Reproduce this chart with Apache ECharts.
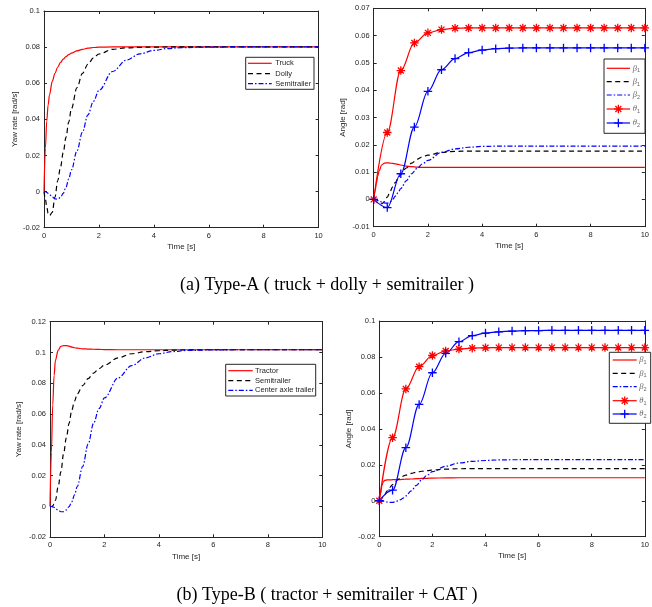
<!DOCTYPE html>
<html>
<head>
<meta charset="utf-8">
<script src="https://cdn.jsdelivr.net/npm/echarts@6/dist/echarts.min.js"></script>
<style>
  html, body { margin: 0; padding: 0; background: #fff; }
  #chart { width: 652px; height: 607px; }
</style>
</head>
<body>
<div id="chart"></div>
<script>
// Time samples [s] for the continuous responses
const T = [0, 0.05, 0.1, 0.15, 0.2, 0.3, 0.4, 0.5, 0.6, 0.7, 0.8, 0.9, 1.0, 1.2, 1.4, 1.6, 1.8, 2.0, 2.5, 3.0, 3.5, 4.0, 4.5, 5.0, 6, 7, 8, 9, 10];
// Time samples [s] for the marked articulation-angle curves
const TM = [0, 0.5, 1, 1.5, 2, 2.5, 3, 3.5, 4, 4.5, 5, 5.5, 6, 6.5, 7, 7.5, 8, 8.5, 9, 9.5, 10];

// (a) Type-A yaw rates [rad/s]
const yawTruck = [0, 0.024, 0.039, 0.048, 0.0535, 0.061, 0.0655, 0.069, 0.0715, 0.0733, 0.0747, 0.0758, 0.0767, 0.0779, 0.0788, 0.0794, 0.0798, 0.08, 0.0801, 0.0801, 0.0801, 0.0801, 0.0801, 0.0801, 0.0801, 0.0801, 0.0801, 0.0801, 0.0801];
const yawDolly = [0, -0.004, -0.0085, -0.012, -0.0133, -0.0115, -0.003, 0.006, 0.0135, 0.0215, 0.03, 0.0385, 0.046, 0.0575, 0.0655, 0.0705, 0.074, 0.0762, 0.0788, 0.0796, 0.0799, 0.08, 0.0801, 0.0801, 0.0801, 0.0801, 0.0801, 0.0801, 0.0801];
const yawSemiA = [0, -0.0001, -0.0004, -0.001, -0.0016, -0.003, -0.004, -0.0042, -0.0032, -0.001, 0.0025, 0.007, 0.012, 0.0225, 0.033, 0.0425, 0.05, 0.056, 0.0665, 0.0728, 0.0763, 0.0782, 0.0792, 0.0797, 0.08, 0.0801, 0.0801, 0.0801, 0.0801];

// (a) Type-A angles [rad]
const angBeta1A = [0, 0.003, 0.006, 0.0085, 0.0105, 0.0127, 0.0133, 0.0134, 0.0133, 0.0132, 0.013, 0.0128, 0.0126, 0.0122, 0.012, 0.0118, 0.0117, 0.0117, 0.0117, 0.0117, 0.0117, 0.0117, 0.0117, 0.0117, 0.0117, 0.0117, 0.0117, 0.0117, 0.0117];
const angBeta1dA = [0, -0.0003, -0.0008, -0.0012, -0.0015, -0.0016, -0.0008, 0.0008, 0.0028, 0.0046, 0.0062, 0.0077, 0.0091, 0.0115, 0.0133, 0.0147, 0.0156, 0.0162, 0.0172, 0.0176, 0.0177, 0.0177, 0.0177, 0.0177, 0.0177, 0.0177, 0.0177, 0.0177, 0.0177];
const angBeta2A = [0, -0.0001, -0.0002, -0.0004, -0.0006, -0.001, -0.0013, -0.0014, -0.001, 0, 0.0012, 0.0025, 0.004, 0.0068, 0.0094, 0.0114, 0.013, 0.0143, 0.0172, 0.0185, 0.0191, 0.0194, 0.0195, 0.0195, 0.0195, 0.0195, 0.0195, 0.0195, 0.0195];
const angTheta1A = [0, 0.0245, 0.0472, 0.0573, 0.061, 0.0622, 0.0627, 0.0628, 0.0628, 0.0628, 0.0628, 0.0628, 0.0628, 0.0628, 0.0628, 0.0628, 0.0628, 0.0628, 0.0628, 0.0628, 0.0628];
const angTheta2A = [0, -0.003, 0.0094, 0.0265, 0.0396, 0.0475, 0.0516, 0.0538, 0.0547, 0.0552, 0.0554, 0.0555, 0.0555, 0.0555, 0.0555, 0.0555, 0.0555, 0.0555, 0.0555, 0.0555, 0.0555];

// (b) Type-B yaw rates [rad/s]
const yawTractor = [0, 0.035, 0.066, 0.085, 0.095, 0.1015, 0.104, 0.1045, 0.1045, 0.1041, 0.1035, 0.1031, 0.1028, 0.1024, 0.1022, 0.1021, 0.102, 0.1019, 0.1018, 0.1018, 0.1018, 0.1018, 0.1018, 0.1018, 0.1018, 0.1018, 0.1018, 0.1018, 0.1018];
const yawSemiB = [0, 0, 0.0005, 0.0015, 0.004, 0.013, 0.0225, 0.0345, 0.0445, 0.054, 0.0625, 0.0685, 0.073, 0.0785, 0.083, 0.0866, 0.0895, 0.0918, 0.0965, 0.0992, 0.1005, 0.1012, 0.1015, 0.1017, 0.1018, 0.1018, 0.1018, 0.1018, 0.1018];
const yawCAT = [0, 0, -0.0002, -0.0006, -0.0012, -0.0025, -0.0034, -0.0034, -0.0022, 0, 0.003, 0.0075, 0.013, 0.026, 0.0405, 0.054, 0.0635, 0.0705, 0.0835, 0.0915, 0.0965, 0.0992, 0.1006, 0.1013, 0.1017, 0.1018, 0.1018, 0.1018, 0.1018];

// (b) Type-B angles [rad]
const angBeta1B = [0, 0.004, 0.0085, 0.0105, 0.0113, 0.0116, 0.0116, 0.0117, 0.0117, 0.0118, 0.0118, 0.0119, 0.012, 0.0121, 0.0123, 0.0124, 0.0125, 0.0126, 0.0127, 0.0128, 0.0128, 0.0128, 0.0128, 0.0128, 0.0128, 0.0128, 0.0128, 0.0128, 0.0128];
const angBeta1dB = [0, 0.0005, 0.0015, 0.0025, 0.0035, 0.0055, 0.0075, 0.009, 0.0105, 0.0118, 0.0128, 0.0137, 0.0143, 0.0152, 0.0159, 0.0164, 0.0168, 0.0171, 0.0176, 0.0178, 0.0179, 0.0179, 0.0179, 0.0179, 0.0179, 0.0179, 0.0179, 0.0179, 0.0179];
const angBeta2B = [0, 0, -0.0001, -0.0002, -0.0004, -0.0007, -0.0009, -0.0009, -0.0006, -0.0001, 0.0006, 0.0015, 0.0027, 0.0055, 0.0086, 0.0117, 0.0142, 0.0162, 0.0192, 0.021, 0.0219, 0.0224, 0.0227, 0.0228, 0.0229, 0.0229, 0.0229, 0.0229, 0.0229];
const angTheta1B = [0, 0.0351, 0.0622, 0.0746, 0.0808, 0.0833, 0.0844, 0.0849, 0.0851, 0.0852, 0.0852, 0.0852, 0.0852, 0.0852, 0.0852, 0.0852, 0.0852, 0.0852, 0.0852, 0.0852, 0.0852];
const angTheta2B = [0, 0.0059, 0.0295, 0.0536, 0.0712, 0.082, 0.0885, 0.0919, 0.0933, 0.094, 0.0944, 0.0946, 0.0947, 0.0948, 0.0948, 0.0948, 0.0948, 0.0948, 0.0948, 0.0948, 0.0948];

// Axis ranges: [min, max, interval]
const xRange = [0, 10, 2];
const yRanges = [[-0.02, 0.1, 0.02], [-0.01, 0.07, 0.01], [-0.02, 0.12, 0.02], [-0.02, 0.1, 0.02]];
const xTitle = 'Time [s]';
const yTitles = ['Yaw rate [rad/s]', 'Angle [rad]', 'Yaw rate [rad/s]', 'Angle [rad]'];
const captions = ['(a) Type-A ( truck + dolly + semitrailer )', '(b) Type-B ( tractor + semitrailer + CAT )'];

// Legend labels per curve id (rich text for the Greek symbols)
const legendText = {
  'a-truck': 'Truck', 'a-dolly': 'Dolly', 'a-semi': 'Semitrailer',
  'a-b1': '{g|β}{s|1}', 'a-b1d': '{g|β}{s|1}', 'a-b2': '{g|β}{s|2}', 'a-t1': '{g|θ}{s|1}', 'a-t2': '{g|θ}{s|2}',
  'b-tractor': 'Tractor', 'b-semi': 'Semitrailer', 'b-cat': 'Center axle trailer',
  'b-b1': '{g|β}{s|1}', 'b-b1d': '{g|β}{s|1}', 'b-b2': '{g|β}{s|2}', 'b-t1': '{g|θ}{s|1}', 'b-t2': '{g|θ}{s|2}'
};

const AX = '#262626';
const RED = '#ff0000', BLK = '#000000', BLU = '#0000ff';
const DASH = [5, 3.5];
const DASHDOT = [5, 2, 1.5, 2];
const STAR = 'path://M0,5L10,5M5,0L5,10M1.5,1.5L8.5,8.5M1.5,8.5L8.5,1.5';
const PLUS = 'path://M0,5L10,5M5,0L5,10';
const MARK_SIZE = 8.5;

// Curve definitions: id, panel, x samples, y values, colour, dash, marker
const curves = [
  ['a-truck', 0, T, yawTruck, RED, null, null],
  ['a-dolly', 0, T, yawDolly, BLK, DASH, null],
  ['a-semi', 0, T, yawSemiA, BLU, DASHDOT, null],
  ['a-b1', 1, T, angBeta1A, RED, null, null],
  ['a-b1d', 1, T, angBeta1dA, BLK, DASH, null],
  ['a-b2', 1, T, angBeta2A, BLU, DASHDOT, null],
  ['a-t1', 1, TM, angTheta1A, RED, null, 'star'],
  ['a-t2', 1, TM, angTheta2A, BLU, null, 'plus'],
  ['b-tractor', 2, T, yawTractor, RED, null, null],
  ['b-semi', 2, T, yawSemiB, BLK, DASH, null],
  ['b-cat', 2, T, yawCAT, BLU, DASHDOT, null],
  ['b-b1', 3, T, angBeta1B, RED, null, null],
  ['b-b1d', 3, T, angBeta1dB, BLK, DASH, null],
  ['b-b2', 3, T, angBeta2B, BLU, DASHDOT, null],
  ['b-t1', 3, TM, angTheta1B, RED, null, 'star'],
  ['b-t2', 3, TM, angTheta2B, BLU, null, 'plus']
];
const curveById = {};
curves.forEach(c => { curveById[c[0]] = c; });

const grids = [
  { left: 44, top: 11, width: 274.6, height: 216.7 },
  { left: 373.7, top: 8.3, width: 274.6, height: 218.4 },
  { left: 50, top: 321.7, width: 272.3, height: 215.6 },
  { left: 379.3, top: 321, width: 273.7, height: 215.7 }
];
const yNameGaps = [25, 27, 27, 27];

const fmt = v => String(+v.toFixed(3));
const xAxes = [], yAxes = [];
grids.forEach((g, i) => {
  const [ymin, ymax, yint] = yRanges[i];
  const common = {
    gridIndex: i, type: 'value',
    axisLine: { show: true, onZero: false, lineStyle: { color: AX, width: 1 } },
    axisTick: { show: true, inside: true, length: 3, lineStyle: { color: AX, width: 1 } },
    splitLine: { show: false }
  };
  xAxes.push(Object.assign({}, common, {
    position: 'bottom', min: xRange[0], max: xRange[1], interval: xRange[2],
    axisLabel: { color: AX, fontSize: 7.5, fontFamily: 'Liberation Sans', margin: 4, formatter: fmt },
    name: xTitle, nameLocation: 'middle', nameGap: 15,
    nameTextStyle: { color: AX, fontSize: 8, fontFamily: 'Liberation Sans' }
  }));
  xAxes.push(Object.assign({}, common, {
    position: 'top', min: xRange[0], max: xRange[1], interval: xRange[2],
    axisLabel: { show: false }
  }));
  yAxes.push(Object.assign({}, common, {
    position: 'left', min: ymin, max: ymax, interval: yint,
    axisLabel: { color: AX, fontSize: 7.5, fontFamily: 'Liberation Sans', margin: 4, formatter: fmt },
    name: yTitles[i], nameLocation: 'middle', nameGap: yNameGaps[i],
    nameTextStyle: { color: AX, fontSize: 8, fontFamily: 'Liberation Sans' }
  }));
  yAxes.push(Object.assign({}, common, {
    position: 'right', min: ymin, max: ymax, interval: yint,
    axisLabel: { show: false }
  }));
});

const pairs = (xs, ys) => xs.map((x, k) => [x, ys[k]]);
const series = curves.map(([id, panel, xs, ys, color, dash, mark]) => ({
  type: 'line', name: id,
  xAxisIndex: panel * 2, yAxisIndex: panel * 2,
  data: pairs(xs, ys),
  smooth: 0.35, smoothMonotone: 'x',
  symbol: mark === 'star' ? STAR : mark === 'plus' ? PLUS : 'none',
  showSymbol: !!mark, symbolSize: MARK_SIZE,
  lineStyle: { color: color, width: 1.2, type: dash || 'solid' },
  itemStyle: { color: color, borderColor: color, borderWidth: 1.3 },
  animation: false
}));

// Boxed legends drawn as graphics, styled from the same curve table
const legendRich = {
  g: { fontSize: 8.5, fontStyle: 'italic', fontFamily: 'Liberation Serif', fill: '#666', lineHeight: 11, verticalAlign: 'middle' },
  s: { fontSize: 5.5, fontFamily: 'Liberation Sans', fill: '#666', lineHeight: 6, verticalAlign: 'bottom' }
};
const legendLayouts = [
  { ids: ['a-truck', 'a-dolly', 'a-semi'], box: [245.7, 57.3, 68.3, 32], line: [248, 271.7], textX: 275.3, ys: [63.3, 73.7, 83.7] },
  { ids: ['a-b1', 'a-b1d', 'a-b2', 'a-t1', 'a-t2'], box: [604, 59, 41, 74.3], line: [606.7, 630], textX: 632.7, ys: [68.3, 81.6, 95, 109, 123] },
  { ids: ['b-tractor', 'b-semi', 'b-cat'], box: [225.7, 364.3, 90, 31.7], line: [228.3, 252.7], textX: 255, ys: [370.7, 380.7, 390.3] },
  { ids: ['b-b1', 'b-b1d', 'b-b2', 'b-t1', 'b-t2'], box: [609.3, 352.3, 41.4, 71], line: [612.7, 636.7], textX: 639.3, ys: [360, 373.3, 386.7, 400.7, 414] }
];
function markerLines(kind, cx, cy, color) {
  const r = MARK_SIZE / 2, d = r * 0.7;
  const segs = [[-r, 0, r, 0], [0, -r, 0, r]];
  if (kind === 'star') segs.push([-d, -d, d, d], [-d, d, d, -d]);
  return segs.map(s => ({
    type: 'line', z: 101,
    shape: { x1: cx + s[0], y1: cy + s[1], x2: cx + s[2], y2: cy + s[3] },
    style: { stroke: color, lineWidth: 1.3 }
  }));
}
const legendGraphics = [];
legendLayouts.forEach(L => {
  const [bx, by, bw, bh] = L.box;
  legendGraphics.push({ type: 'rect', z: 100, shape: { x: bx, y: by, width: bw, height: bh }, style: { fill: '#fff', stroke: AX, lineWidth: 1 } });
  L.ids.forEach((id, k) => {
    const c = curveById[id];
    const y = L.ys[k];
    legendGraphics.push({
      type: 'line', z: 101,
      shape: { x1: L.line[0], y1: y, x2: L.line[1], y2: y },
      style: { stroke: c[4], lineWidth: 1.2, lineDash: c[5] || null }
    });
    if (c[6]) legendGraphics.push(...markerLines(c[6], (L.line[0] + L.line[1]) / 2, y, c[4]));
    legendGraphics.push({
      type: 'text', z: 101, x: L.textX, y: y,
      style: { text: legendText[id], rich: legendRich, fontSize: 7.5, fontFamily: 'Liberation Sans', fill: AX, align: 'left', verticalAlign: 'middle' }
    });
  });
});

const option = {
  backgroundColor: '#fff',
  animation: false,
  grid: grids,
  xAxis: xAxes,
  yAxis: yAxes,
  series: series,
  graphic: [
    { type: 'text', x: 327, y: 285, style: { text: captions[0], font: '18px "Liberation Serif"', fill: '#000', align: 'center', verticalAlign: 'middle' } },
    { type: 'text', x: 327, y: 595, style: { text: captions[1], font: '18px "Liberation Serif"', fill: '#000', align: 'center', verticalAlign: 'middle' } }
  ].concat(legendGraphics)
};

const chart = echarts.init(document.getElementById('chart'), null, { renderer: 'canvas' });
chart.setOption(option);
</script>
</body>
</html>
